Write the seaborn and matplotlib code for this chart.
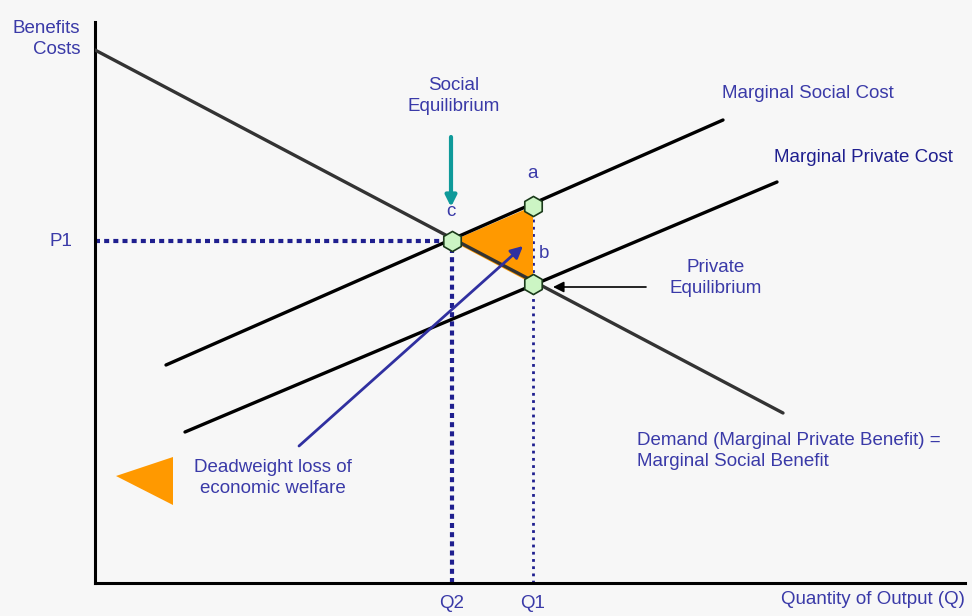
import matplotlib
matplotlib.use("Agg")
import matplotlib.pyplot as plt
import seaborn as sns
import pandas as pd
from matplotlib.patches import Polygon

sns.set_theme(style="white")
plt.rcParams["font.family"] = ["Liberation Sans", "DejaVu Sans"]

# Curve endpoints (quantity, price) in chart units
demand_q = [0, 688]
demand_p = [533, 170]
msc_q = [71, 628]
msc_p = [218, 463]
mpc_q = [90, 682]
mpc_p = [151, 401]

# Equilibrium points: c (social), a (MSC at Q1), b (private)
point_names = ["c", "a", "b"]
point_q = [357, 438, 438]
point_p = [342, 377, 299]

q_labels = ["Q2", "Q1"]
p_labels = ["P1"]

TEXT = "#3a3aa8"
NAVY = "#1f1f8f"
ORANGE = "#ff9900"
BG = "#f7f7f7"

fig = plt.figure(figsize=(9.72, 6.16), dpi=100, facecolor=BG)
ax = fig.add_axes([95 / 972, (616 - 583) / 616, 870 / 972, 561 / 616])
ax.set_facecolor(BG)
ax.set_xlim(0, 870)
ax.set_ylim(0, 561)

curves = pd.concat([
    pd.DataFrame({"q": demand_q, "p": demand_p, "curve": "Demand"}),
    pd.DataFrame({"q": msc_q, "p": msc_p, "curve": "MSC"}),
    pd.DataFrame({"q": mpc_q, "p": mpc_p, "curve": "MPC"}),
])

# Deadweight loss triangle
tri = Polygon(list(zip(point_q, point_p)), closed=True, facecolor=ORANGE,
              edgecolor="none", zorder=2)
ax.add_patch(tri)

sns.lineplot(data=curves, x="q", y="p", hue="curve",
             palette={"Demand": "#333333", "MSC": "#000000", "MPC": "#000000"},
             linewidth=2.4, legend=False, ax=ax, zorder=3, estimator=None, sort=False)

qc, qa, qb = point_q
pc, pa, pb = point_p

# Guide lines to the axes
ax.plot([0, qc], [pc, pc], color=NAVY, linestyle=(0, (1.2, 1.0)), linewidth=3, zorder=1)
ax.plot([qc, qc], [0, pc], color=NAVY, linestyle=(0, (1.2, 1.0)), linewidth=3, zorder=1)
ax.plot([qa, qa], [0, pa], color=NAVY, linestyle=(0, (1.0, 1.6)), linewidth=2, zorder=1)

sns.scatterplot(x=point_q, y=point_p, marker="h", s=210, color="#ccf5c4",
                edgecolor="#1a3a1a", linewidth=1.2, ax=ax, zorder=5, legend=False)

for side in ["top", "right"]:
    ax.spines[side].set_visible(False)
for side in ["left", "bottom"]:
    ax.spines[side].set_color("black")
    ax.spines[side].set_linewidth(2.2)
ax.set_xticks([])
ax.set_yticks([])
ax.set_xlabel("")
ax.set_ylabel("")

fs = 13.5
ls = 1.38
kw = dict(color=TEXT, fontsize=fs, clip_on=False)

ax.text(-15, 544, "Benefits\nCosts", ha="right", va="center", linespacing=ls, **kw)
ax.text(-23, pc, p_labels[0], ha="right", va="center", **kw)
ax.text(qc, -21, q_labels[0], ha="center", va="center", **kw)
ax.text(qa, -21, q_labels[1], ha="center", va="center", **kw)
ax.text(870, -17, "Quantity of Output (Q)", ha="right", va="center", **kw)

ax.text(359, 487, "Social\nEquilibrium", ha="center", va="center", linespacing=ls, **kw)
ax.annotate("", xy=(356, 376), xytext=(356, 446),
            arrowprops=dict(arrowstyle="-|>", color="#0f9a9a", lw=3, mutation_scale=16,
                            shrinkA=0, shrinkB=0))
ax.text(356, 372, point_names[0], ha="center", va="center", **kw)
ax.text(437, 410, point_names[1], ha="center", va="center", **kw)
ax.text(449, 330, point_names[2], ha="center", va="center", **kw)

ax.text(627, 490, "Marginal Social Cost", ha="left", va="center", **kw)
ax.text(679, 426, "Marginal Private Cost", ha="left", va="center",
        color=NAVY, fontsize=fs, clip_on=False)

ax.text(621, 305, "Private\nEquilibrium", ha="center", va="center", linespacing=ls, **kw)
ax.annotate("", xy=(458, 296), xytext=(551, 296),
            arrowprops=dict(arrowstyle="-|>", color="black", lw=1.2, mutation_scale=16,
                            shrinkA=0, shrinkB=0))

ax.text(542, 132, "Demand (Marginal Private Benefit) =\nMarginal Social Benefit",
        ha="left", va="center", linespacing=ls, **kw)

ax.text(178, 105, "Deadweight loss of\neconomic welfare", ha="center", va="center",
        linespacing=ls, **kw)
ax.annotate("", xy=(428, 337), xytext=(204, 137),
            arrowprops=dict(arrowstyle="-|>", color="#3030a0", lw=2, mutation_scale=18,
                            shrinkA=0, shrinkB=0))

legend_tri = Polygon([(21, 107), (78, 126), (78, 78)], closed=True,
                     facecolor=ORANGE, edgecolor="none", clip_on=False)
ax.add_patch(legend_tri)

fig.savefig("out.png", dpi=100, facecolor=BG)
